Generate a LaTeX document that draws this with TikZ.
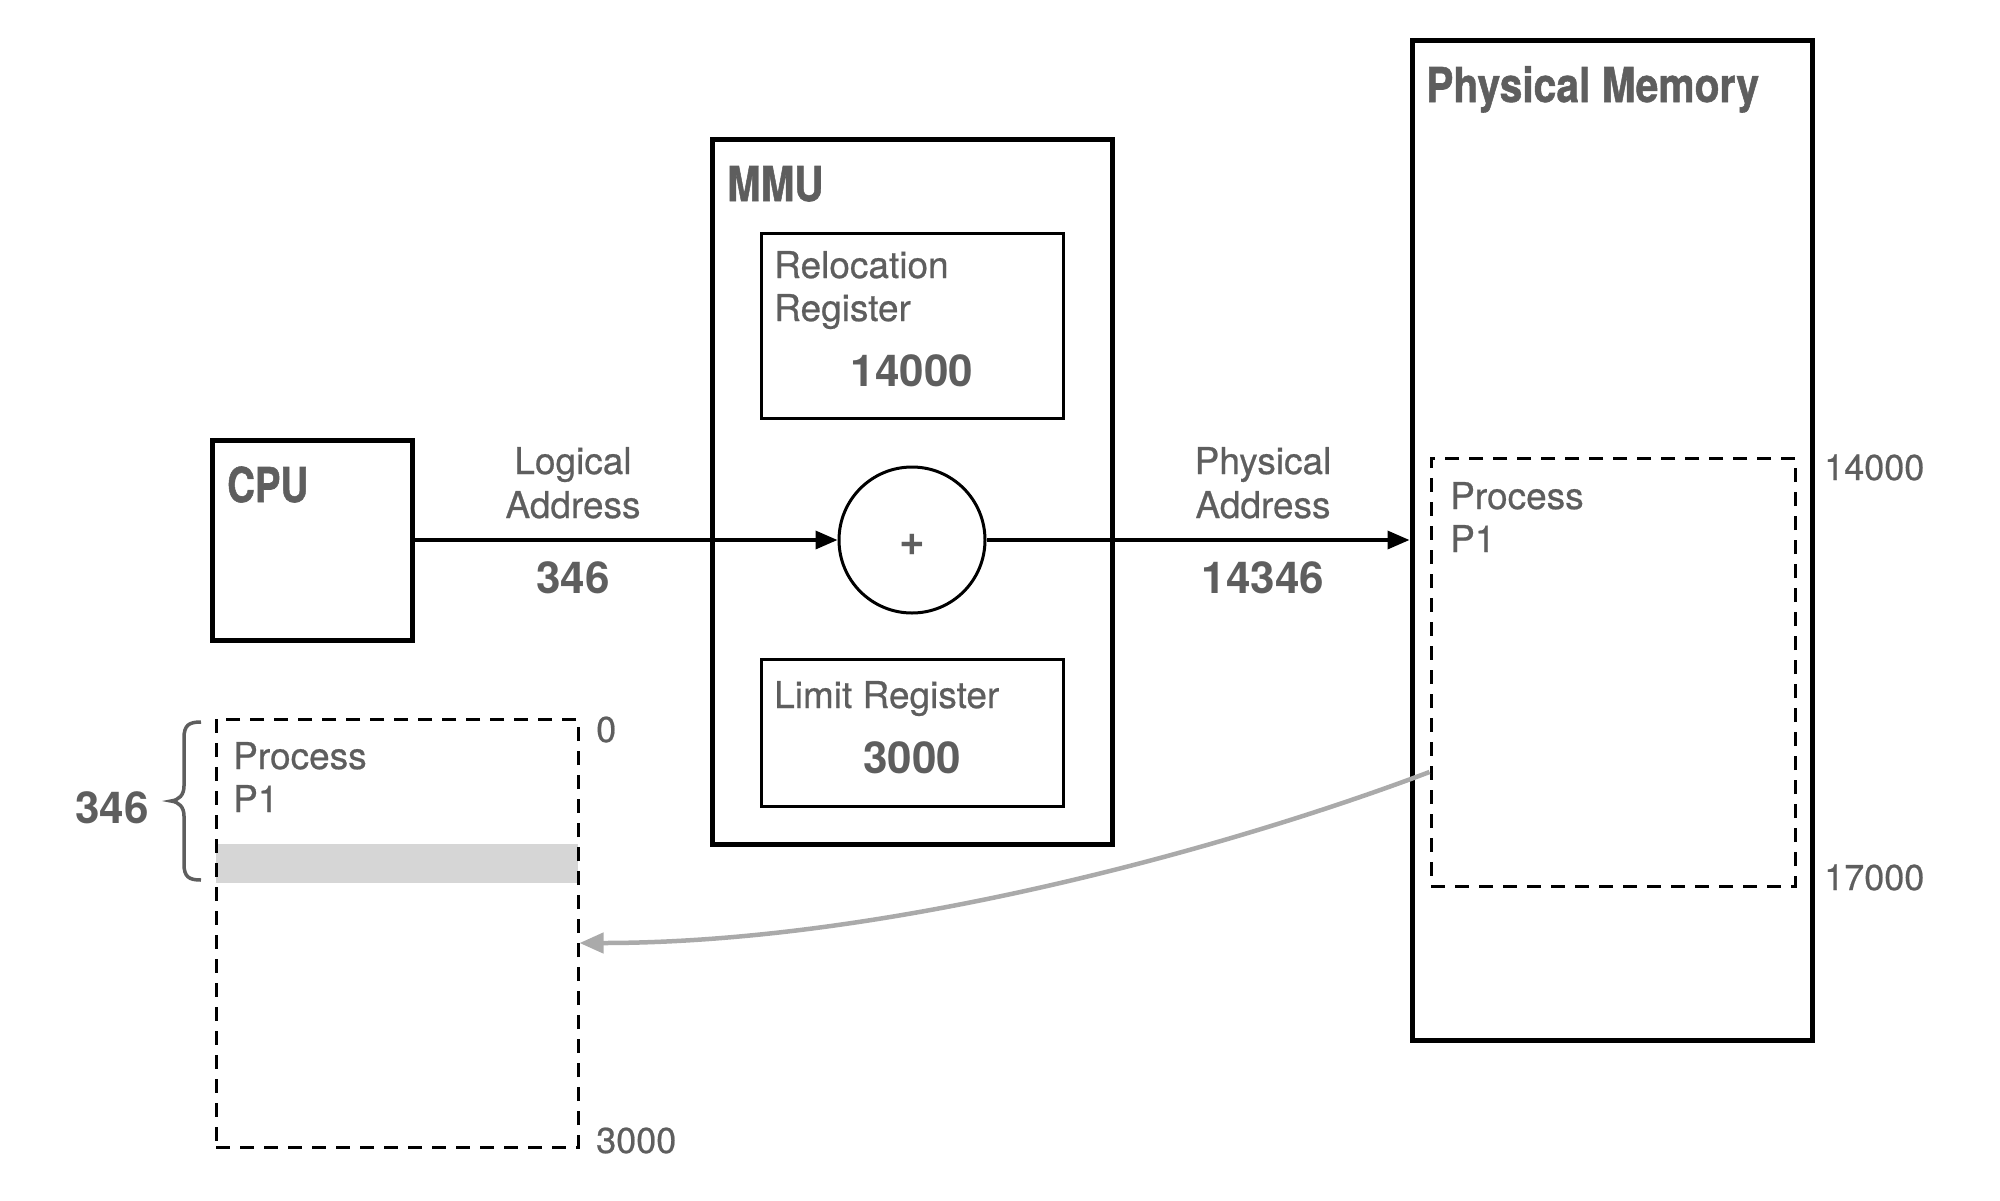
\documentclass[tikz,border=0pt]{standalone}
\usepackage{fontspec}
\usepackage{graphicx}
\setmainfont{TeX Gyre Heros}
\newfontfamily\regfont{TeX Gyre Heros}[FakeBold=0.6]
\newfontfamily\heavyfont{TeX Gyre Heros Bold}[FakeBold=1.2]
\usetikzlibrary{arrows.meta}
\definecolor{txt}{HTML}{5E5E5E}
\definecolor{arrgray}{HTML}{AAAAAA}
\definecolor{barfill}{HTML}{D6D6D6}
\tikzset{
 lbl/.style={text=txt, inner sep=0pt, font=\fontsize{37}{44}\regfont},
 num/.style={text=txt, inner sep=0pt, font=\fontsize{44}{52}\selectfont\bfseries},
 ttl/.style={text=txt, inner sep=0pt, font=\fontsize{48}{56}\heavyfont},
 small/.style={text=txt, inner sep=0pt, font=\fontsize{36}{42}\regfont},
 bigbox/.style={draw=black, line width=5pt, inner sep=0pt},
 regbox/.style={draw=black, line width=3pt, inner sep=0pt},
 dbox/.style={draw=black, line width=3pt, dash pattern=on 14pt off 10pt, inner sep=0pt},
 flow/.style={line width=3.5pt, -{Triangle[length=22pt,width=18pt]}},
 back/.style={draw=arrgray, line width=4.5pt, -{Triangle[length=24pt,width=20pt]}},
}
\begin{document}
\begin{tikzpicture}[x=1pt,y=-1pt]
\useasboundingbox (0,0) rectangle (2000,1200);
% boxes
\node[bigbox, minimum width=200pt, minimum height=200pt] (cpu) at (312,540) {};
\node[bigbox, minimum width=400pt, minimum height=705pt] (mmu) at (912,491.5) {};
\node[regbox, minimum width=302pt, minimum height=185pt] (reloc) at (912,325.5) {};
\node[regbox, minimum width=302pt, minimum height=147pt] (limit) at (912,732.5) {};
\node[regbox, circle, minimum size=146pt, fill=white] (adder) at (912,540) {};
\node[bigbox, minimum width=400pt, minimum height=1000pt] (phys) at (1612,540) {};
\node[dbox, minimum width=364pt, minimum height=428pt] (proc) at (1613,672) {};
\fill[barfill] (216,844) rectangle (578,883);
\node[dbox, minimum width=362pt, minimum height=428pt] (lproc) at (397,933) {};
% titles
\node[ttl, anchor=base west] (cputitle) at (227,502) {\scalebox{0.8}[1]{CPU}};
\node[ttl, anchor=base west] (mmutitle) at (727,201) {\scalebox{0.84}[1]{MMU}};
\node[ttl, anchor=base west] (phystitle) at (1426,102) {\scalebox{0.85}[1]{Physical Memory}};
% register texts
\node[lbl, anchor=base west] (rl1) at (774,278) {Relocation};
\node[lbl, anchor=base west] (rl2) at (774,321) {Register};
\node[num, anchor=base] (rv) at (912,386) {14000};
\node[lbl, anchor=base west] (ll1) at (774,708) {Limit Register};
\node[num, anchor=base] (lv) at (912,773) {3000};
\node[num] (plus) at (912,545) {+};
% connector labels
\node[lbl, anchor=base] (la1) at (573,474) {Logical};
\node[lbl, anchor=base] (la2) at (573,518) {Address};
\node[num, anchor=base] (la3) at (573,593) {346};
\node[lbl, anchor=base] (pa1) at (1263,474) {Physical};
\node[lbl, anchor=base] (pa2) at (1263,518) {Address};
\node[num, anchor=base] (pa3) at (1263,593) {14346};
% memory labels
\node[small, anchor=base west] (m1) at (1824,480) {14000};
\node[small, anchor=base west] (m2) at (1824,890) {17000};
\node[lbl, anchor=base west] (pp1) at (1450,509) {Process};
\node[lbl, anchor=base west] (pp2) at (1450,552) {P1};
\node[lbl, anchor=base west] (lp1) at (233,769) {Process};
\node[lbl, anchor=base west] (lp2) at (233,812) {P1};
\node[small, anchor=base west] (l0) at (596,742) {0};
\node[small, anchor=base west] (l3) at (596,1153) {3000};
\node[num, anchor=base] (off) at (112,823) {346};
% brace
\draw[txt, line width=3.5pt] (201,722) .. controls (189,722) and (184,725) .. (184,738) -- (184,786)
  .. controls (184,795) and (179,800) .. (171,801) .. controls (179,802) and (184,807) .. (184,816)
  -- (184,864) .. controls (184,877) and (189,880) .. (201,880);
% connectors
\draw[flow] (cpu) -- (adder);
\draw[flow] (adder) -- (phys);
\coordinate (bstart) at ([yshift=-100pt]proc.west);
\coordinate (bend) at ([yshift=-10pt]lproc.east);
\draw[back] (bstart) .. controls (1250,840) and (900,943) .. (bend);
\end{tikzpicture}
\end{document}
